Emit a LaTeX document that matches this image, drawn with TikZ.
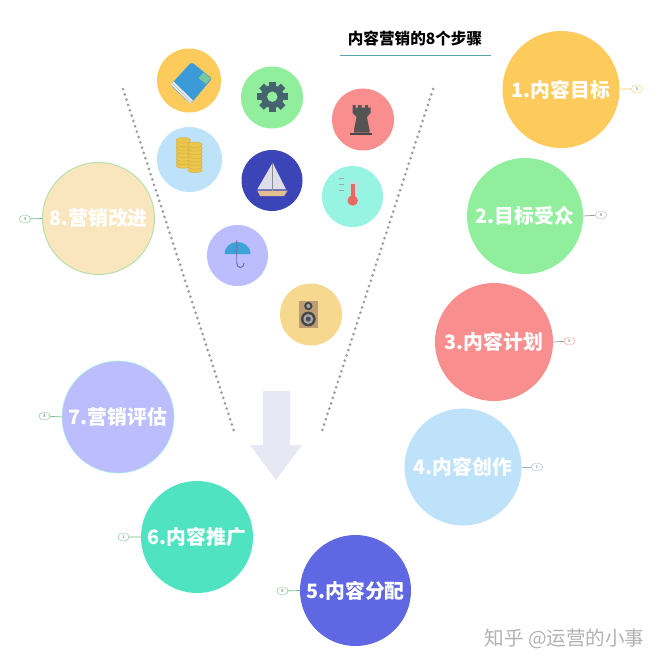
\documentclass[tikz,border=0pt]{standalone}
\usepackage{fontspec}
\setmainfont{Noto Sans CJK SC}
\usetikzlibrary{shapes.misc}
\definecolor{c1}{HTML}{FDCB5C}
\definecolor{c2}{HTML}{90EE9C}
\definecolor{c3}{HTML}{F98E8E}
\definecolor{c4}{HTML}{BEE2FA}
\definecolor{c5}{HTML}{5F67E2}
\definecolor{c6}{HTML}{4FE3C2}
\definecolor{c7}{HTML}{BCBDFC}
\definecolor{c8}{HTML}{F9E6BE}
\definecolor{cboat}{HTML}{3B45B8}
\definecolor{cthermo}{HTML}{97F3E2}
\definecolor{cspeak}{HTML}{F6D98E}
\definecolor{cgear}{HTML}{46646F}
\definecolor{cblue}{HTML}{3B9BD8}
\definecolor{ccoin}{HTML}{EBC64E}
\definecolor{ccoind}{HTML}{CFA935}
\definecolor{carrow}{HTML}{E6E8F4}
\definecolor{underteal}{HTML}{5AA6B5}
\definecolor{cedge}{HTML}{B5E0A8}
\definecolor{csail}{HTML}{DDDEE8}
\definecolor{chull}{HTML}{E3BE8E}
\definecolor{cred}{HTML}{E8695F}
\definecolor{chalo}{HTML}{B9E4DC}
\definecolor{cbox}{HTML}{BC9E70}
\tikzset{
  stepdisc/.style={circle,inner sep=0pt,text=white,font=\fontsize{19.8}{22}\selectfont\bfseries},
  icondisc/.style={circle,inner sep=0pt},
  tagbox/.style={rounded rectangle,draw=#1,line width=0.4pt,fill=white,minimum width=11pt,minimum height=7pt,inner sep=0pt,text=black!65,font=\fontsize{4}{4}\selectfont},
  taglink/.style={draw=#1,line width=0.7pt},
  funnel/.style={line width=3pt,line cap=round,dash pattern=on 0pt off 5.6pt,draw=black!38},
}
\newcommand{\coinstack}[3]{%
  \foreach \k in {0,...,#3}{
    \fill[ccoin,draw=ccoind,line width=0.3pt] ({#1},{#2-\k*3.6}) ellipse [x radius=7.3pt,y radius=2.8pt];
  }
}
\begin{document}
\begin{tikzpicture}[x=1pt,y=-1pt]
\useasboundingbox[fill=white] (0,0) rectangle (662,667);

% funnel
\coordinate (fla) at (123,89);
\coordinate (flb) at (234,431);
\coordinate (fra) at (433,89);
\coordinate (frb) at (322,431);
\draw[funnel] (fla) -- (flb);
\draw[funnel] (fra) -- (frb);

% arrow
\fill[carrow] (263,391) -- (290,391) -- (290,445) -- (302,445) -- (276,480) -- (250,445) -- (263,445) -- cycle;

% title
\node (title) at (415,38) {\fontsize{15.6}{17}\selectfont\bfseries 内容营销的8个步骤};
\fill[underteal] (340,54.6) rectangle (491,56.4);

% step discs
\node[stepdisc,fill=c1,minimum size=117pt] (s1) at (561,89.5) {1.内容目标};
\node[stepdisc,fill=c2,minimum size=116pt] (s2) at (525,216) {2.目标受众};
\node[stepdisc,fill=c3,minimum size=118pt] (s3) at (494,342) {3.内容计划};
\node[stepdisc,fill=c4,minimum size=117pt] (s4) at (463,467) {4.内容创作};
\node[stepdisc,fill=c5,minimum size=111pt] (s5) at (355.5,590.5) {5.内容分配};
\node[stepdisc,fill=c6,minimum size=112pt] (s6) at (197,537) {6.内容推广};
\node[stepdisc,fill=c7,draw=c6!50!white,line width=0.6pt,minimum size=112pt] (s7) at (118,417) {7.营销评估};
\node[stepdisc,fill=c8,draw=cedge,line width=1pt,minimum size=112pt] (s8) at (98.5,218.5) {8.营销改进};

% tags
\node[tagbox=c1] (t1) at (637,89) {5};
\node[tagbox=black!30] (t2) at (601,215) {6};
\node[tagbox=c3] (t3) at (569.5,341) {6};
\node[tagbox=c4!80!black] (t4) at (537,467) {1};
\node[tagbox=c2!80!black] (t5) at (282.5,591) {8};
\node[tagbox=c2!80!black] (t6) at (123.5,537) {1};
\node[tagbox=c2!80!black] (t7) at (44.5,416) {8};
\node[tagbox=c2!80!black] (t8) at (25,219) {4};
\draw[taglink=c1] (s1) -- (t1);
\draw[taglink=black!40] (s2.east) -- (t2);
\draw[taglink=black!40] (s3.east) -- (t3);
\draw[taglink=c4!80!black] (s4) -- (t4);
\draw[taglink=c2!80!black] (s5.west) -- (t5);
\draw[taglink=c2!80!black] (s6.west) -- (t6);
\draw[taglink=c2!80!black] (s7.west) -- (t7);
\draw[taglink=c2!80!black] (s8.west) -- (t8);

% icon discs
\node[icondisc,fill=c1,minimum size=64pt] (ibook) at (189,80.5) {};
\node[icondisc,fill=c2,minimum size=62pt] (igear) at (272,97.5) {};
\node[icondisc,fill=c3,minimum size=62pt] (irook) at (363,119.5) {};
\node[icondisc,fill=c4,minimum size=65pt] (icoin) at (189.5,159.5) {};
\node[icondisc,fill=cboat,minimum size=61pt] (iboat) at (272,180.5) {};
\node[icondisc,fill=cthermo,minimum size=61pt] (ithermo) at (352.5,196.5) {};
\node[icondisc,fill=c7,minimum size=61pt] (iumb) at (237.5,255.5) {};
\node[icondisc,fill=cspeak,minimum size=62pt] (ispeak) at (311,314.5) {};

% book
\fill[cblue,rounded corners=2pt] (191.5,62) -- (212,78.5) -- (190.5,104) -- (170.5,85) -- cycle;
\fill[white!92!black] (170.8,84.5) -- (190.5,103.5) -- (193,100.5) -- (173.5,81.5) -- cycle;
\draw[black!30,line width=0.4pt] (172.5,83.5) -- (191.5,102);
\fill[c6!45!c2!70!gray] (198.5,78) -- (203.5,72.5) -- (211,78.5) -- (206,84) -- cycle;

% gear
\foreach \a in {0,45,...,315}{
  \fill[cgear,rotate around={\a:(272.3,96.7)}] (269,81.5) rectangle (275.6,88);
}
\fill[cgear] (272.3,96.7) circle[radius=11.5pt];
\fill[c2] (272.3,96.7) circle[radius=5.2pt];

% rook
\fill[black!67] (352.5,105) -- (355.5,105) -- (355.5,107.5) -- (358,107.5) -- (358,105) -- (361.5,105) -- (361.5,107.5) -- (365,107.5) -- (365,105) -- (368,105) -- (368,107.5) -- (370.5,107.5) -- (370.5,105) -- (370.5,113) -- (367,117) -- (369.5,130) -- (369.5,132.5) -- (354,132.5) -- (354,130) -- (356.5,117) -- (352.5,113) -- cycle;
\fill[black!72] (350,132.5) rectangle (372,134.5);

% coins
\coinstack{183.3}{165.5}{7}
\coinstack{195}{170}{7}

% boat
\fill[csail] (272.7,162.7) -- (286,189.3) -- (257.3,189.3) -- cycle;
\draw[black!45,line width=0.7pt] (272.7,162.7) -- (272.7,191);
\fill[chull] (257.3,190.5) -- (287.7,190.5) -- (284,196) -- (260,196) -- cycle;

% thermometer
\fill[chalo] (348.5,181) rectangle (357.5,205);
\draw[black!35,line width=0.5pt] (339,178.5) -- (343.5,178.5) (339,184) -- (343.5,184) (339,190) -- (343.5,190);
\fill[cred] (350.7,184) rectangle (354.7,200);
\fill[cred] (352.7,200.5) circle[radius=5.2pt];

% umbrella
\fill[cblue!90!c6] (224.5,254) .. controls (225,238) and (250,238) .. (250.5,254) -- cycle;
\draw[black!60!blue!60,line width=0.9pt,line cap=round] (236.7,240.5) -- (236.7,263) .. controls (236.7,269) and (244,269) .. (244,263);

% speaker
\fill[cbox] (299,301) rectangle (318.3,327.5);
\fill[black!72] (308.3,306) circle[radius=4.2pt];
\fill[black!35] (308.3,306) circle[radius=2pt];
\fill[black!72] (308.3,319) circle[radius=7.4pt];
\fill[black!35] (308.3,319) circle[radius=5pt];
\fill[black!70] (308.3,319) circle[radius=2.5pt];

% watermark
\node[text=black!30,font=\fontsize{19.6}{21}\selectfont] (mark) at (564.5,639) {知乎 @运营的小事};
\end{tikzpicture}
\end{document}
